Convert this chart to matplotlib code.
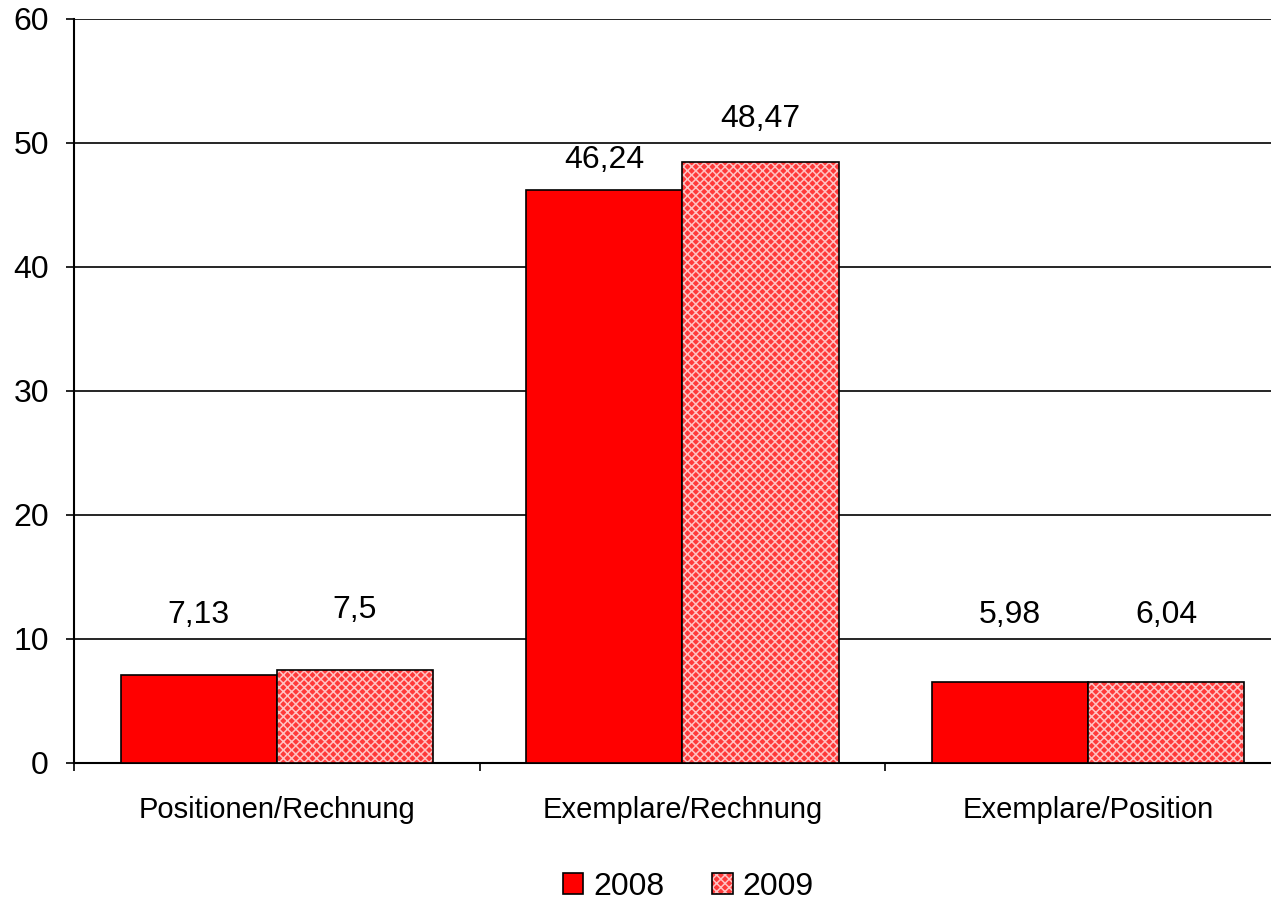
import matplotlib
matplotlib.use("Agg")
import matplotlib.pyplot as plt
from matplotlib.patches import Patch
import numpy as np

categories = ["Positionen/Rechnung", "Exemplare/Rechnung", "Exemplare/Position"]
series_names = ["2008", "2009"]
values_2008 = [7.13, 46.24, 6.5]
values_2009 = [7.5, 48.47, 6.5]
labels_2008 = ["7,13", "46,24", "5,98"]
labels_2009 = ["7,5", "48,47", "6,04"]
label_y_2008 = [11.9, 48.6, 11.9]
label_y_2009 = [12.3, 51.9, 11.9]
yticks = [0, 10, 20, 30, 40, 50, 60]

plt.rcParams['font.family'] = ['Liberation Sans', 'DejaVu Sans']
plt.rcParams['hatch.linewidth'] = 1.1

PAT_FACE = '#ff3a3a'
PAT_HATCH = '#ffc4c4'

fig = plt.figure(figsize=(12.71, 9.15), dpi=100)
ax = fig.add_axes([74/1271, 1-763/915, (1291-74)/1271, (763-19)/915])

x = np.arange(len(categories))
w = 0.385
ax.bar(x - w/2, values_2008, width=w, color='#ff0000', edgecolor='black', linewidth=1.2, zorder=3)
ax.bar(x + w/2, values_2009, width=w, color=PAT_FACE, edgecolor=PAT_HATCH, linewidth=0, hatch='xxxx', zorder=3)
ax.bar(x + w/2, values_2009, width=w, fill=False, edgecolor='black', linewidth=1.2, zorder=4)

for xi, lab, ly in zip(x, labels_2008, label_y_2008):
    ax.text(xi - w/2, ly, lab, ha='center', va='center', fontsize=23)
for xi, lab, ly in zip(x, labels_2009, label_y_2009):
    ax.text(xi + w/2, ly, lab, ha='center', va='center', fontsize=23)

ax.set_xlim(-0.5, len(categories) - 0.5)
ax.set_ylim(0, 60)
ax.set_yticks(yticks)
ax.set_yticklabels([str(t) for t in yticks], fontsize=23)
ax.yaxis.grid(True, color='black', linewidth=1.2, zorder=0)
ax.set_axisbelow(True)

ax.set_xticks(x)
ax.set_xticklabels(categories, fontsize=21)
ax.tick_params(axis='x', length=0, pad=24)
ax.set_xticks(np.arange(len(categories) + 1) - 0.5, minor=True)
ax.tick_params(axis='x', which='minor', length=6, width=1.2, direction='out')
ax.tick_params(axis='y', length=6, width=1.2, direction='out', pad=12)

for s in ['top', 'right']:
    ax.spines[s].set_visible(False)
ax.spines['left'].set_linewidth(1.5)
ax.spines['bottom'].set_linewidth(1.5)

h2008 = Patch(facecolor='#ff0000', edgecolor='black', linewidth=1.2)
h2009 = (Patch(facecolor=PAT_FACE, edgecolor=PAT_HATCH, hatch='xxxx', linewidth=0),
         Patch(fill=False, edgecolor='black', linewidth=1.2))
fig.legend(handles=[h2008, h2009], labels=series_names, loc='center',
           bbox_to_anchor=(688/1271, 1-887/915), ncol=2, frameon=False,
           fontsize=23, handlelength=0.65, handleheight=0.65, handletextpad=0.3, columnspacing=1.5)

fig.savefig("out.png", dpi=100)
